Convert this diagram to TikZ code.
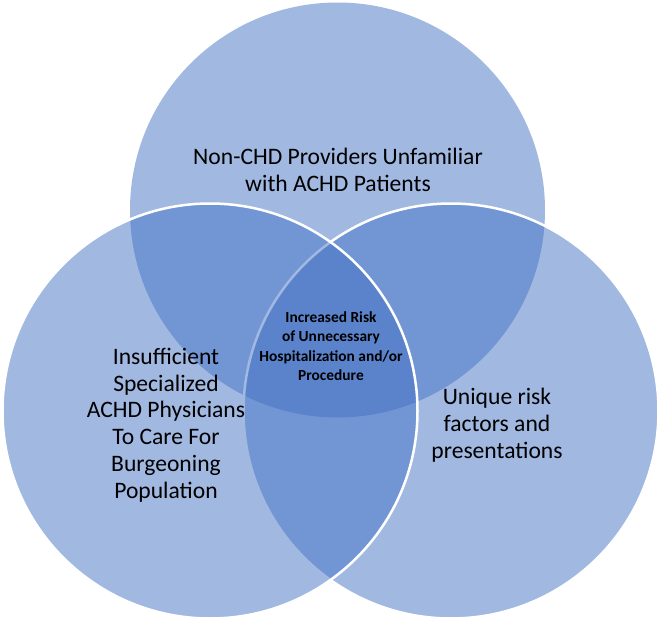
\documentclass[tikz,border=0pt]{standalone}
\usepackage{fontspec}
\setmainfont{Carlito}
\definecolor{vennblue}{RGB}{68,114,196}
\begin{document}
\begin{tikzpicture}[x=1pt,y=-1pt,
  venn/.style={fill=vennblue, fill opacity=0.5},
  vennedge/.style={draw=white, line width=2.5pt},
  lbl/.style={align=center, font=\fontsize{23.6}{26.8}\selectfont, inner sep=0pt, text=black},
  clbl/.style={align=center, font=\bfseries\fontsize{15.4}{19.5}\selectfont, inner sep=0pt, text=black}]
\useasboundingbox (0,0) rectangle (662,621);
\coordinate (ctop) at (337.5,210);
\coordinate (cright) at (451,411);
\coordinate (cleft) at (210,411);
\fill[venn] (ctop) circle (207.5pt);
\fill[venn] (cright) circle (207.5pt);
\draw[vennedge] (cright) circle (207.5pt);
\fill[venn] (cleft) circle (207.5pt);
\draw[vennedge] (cleft) circle (207.5pt);
\node[lbl] (ttop) at (338,170) {Non-CHD Providers Unfamiliar\\with ACHD Patients};
\node[lbl] (tleft) at (166,425) {Insufficient\\Specialized\\ACHD Physicians\\To Care For\\Burgeoning\\Population};
\node[lbl] (tright) at (497,425) {Unique risk\\factors and\\presentations};
\node[clbl] (tcenter) at (331,346) {Increased Risk\\of Unnecessary\\Hospitalization and/or\\Procedure};
\end{tikzpicture}
\end{document}
